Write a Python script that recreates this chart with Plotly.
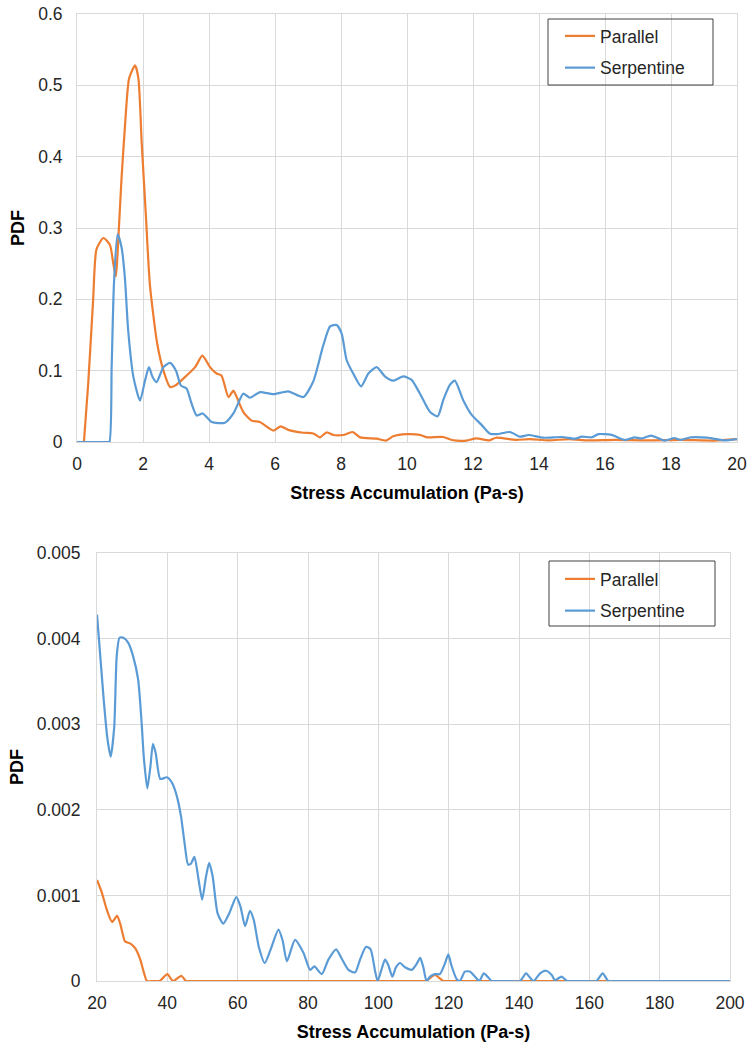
import plotly.graph_objects as go

# ---------- Top panel data (Stress Accumulation 0-20) ----------
par_top_x = [0.21, 0.34, 0.49, 0.59, 0.80, 1.0, 1.10, 1.18, 1.25, 1.35, 1.45, 1.58, 1.76, 1.86, 1.96, 2.09,
             2.21, 2.43, 2.62, 2.82, 2.97, 3.27, 3.58, 3.80, 4.03, 4.23, 4.38, 4.59, 4.74, 4.84, 5.04, 5.29,
             5.54, 5.95, 6.17, 6.40, 6.86, 7.16, 7.36, 7.57, 7.77, 8.07, 8.35, 8.58, 9.08, 9.36, 9.58, 9.99,
             10.39, 10.6, 11.1, 11.36, 11.8, 12.1, 12.5, 12.7, 13.3, 13.73, 14.3, 14.9, 15.5, 16.3, 17.3,
             18.3, 19.3, 20.0]
par_top_y = [0.0, 0.082, 0.20, 0.27, 0.286, 0.276, 0.25, 0.232, 0.283, 0.37, 0.44, 0.51, 0.528, 0.51, 0.42,
             0.315, 0.22, 0.138, 0.10, 0.077, 0.079, 0.091, 0.105, 0.121, 0.105, 0.096, 0.093, 0.063, 0.072,
             0.063, 0.042, 0.030, 0.028, 0.016, 0.022, 0.017, 0.013, 0.012, 0.0066, 0.0136, 0.0098, 0.0098,
             0.014, 0.0065, 0.0047, 0.002, 0.008, 0.011, 0.010, 0.0066, 0.0070, 0.0028, 0.002, 0.005, 0.0023,
             0.006, 0.003, 0.004, 0.0023, 0.004, 0.0023, 0.003, 0.0023, 0.003, 0.002, 0.004]

ser_top_x = [0.0, 0.45, 0.90, 0.98, 1.05, 1.12, 1.23, 1.35, 1.45, 1.55, 1.71, 1.91, 2.06, 2.18, 2.29, 2.41,
             2.62, 2.82, 3.0, 3.15, 3.32, 3.47, 3.63, 3.81, 4.08, 4.48, 4.74, 4.94, 5.04, 5.24, 5.55, 5.95,
             6.4, 6.86, 7.16, 7.46, 7.67, 7.87, 8.02, 8.17, 8.37, 8.61, 8.83, 9.08, 9.33, 9.58, 9.89, 10.14,
             10.39, 10.70, 10.93, 11.1, 11.3, 11.45, 11.7, 11.96, 12.26, 12.5, 12.72, 13.12, 13.42, 13.68,
             14.13, 14.7, 15.1, 15.3, 15.6, 15.8, 16.2, 16.6, 16.9, 17.1, 17.4, 17.8, 18.1, 18.3, 18.6,
             19.1, 19.6, 20.0]
ser_top_y = [0.0, 0.0, 0.0, 0.0, 0.105, 0.222, 0.291, 0.273, 0.231, 0.157, 0.091, 0.058, 0.086, 0.105,
             0.091, 0.084, 0.105, 0.111, 0.10, 0.079, 0.075, 0.054, 0.037, 0.040, 0.028, 0.027, 0.040,
             0.060, 0.068, 0.062, 0.070, 0.067, 0.071, 0.063, 0.085, 0.135, 0.162, 0.164, 0.152, 0.115,
             0.096, 0.078, 0.096, 0.105, 0.092, 0.086, 0.092, 0.087, 0.068, 0.042, 0.036, 0.059, 0.080,
             0.086, 0.059, 0.038, 0.024, 0.012, 0.011, 0.014, 0.0075, 0.0098, 0.006, 0.007, 0.0047,
             0.0075, 0.0066, 0.011, 0.010, 0.003, 0.0066, 0.005, 0.009, 0.002, 0.0056, 0.003, 0.0066,
             0.006, 0.0023, 0.004]

# ---------- Bottom panel data (Stress Accumulation 20-200) ----------
par_bot_x = [20.0, 21.4, 22.8, 24.3, 25.7, 26.6, 28.0, 29.4, 30.9, 32.3, 33.4, 34.2, 36.0, 37.8, 40.0,
             41.6, 44.0, 45.3, 47.0, 60.0, 80.0, 100.0, 111.5, 113.5, 116.1, 118.5, 120.5, 140.0, 160.0,
             180.0, 200.0]
par_bot_y = [0.00118, 0.00103, 0.00083, 0.00069, 0.00076, 0.00067, 0.00046, 0.00044, 0.00038, 0.00025,
             0.00009, 0.0, 0.0, 0.0, 0.00008, 0.0, 0.00006, 0.0, 0.0, 0.0, 0.0, 0.0, 0.0, 0.0, 0.00007,
             0.0, 0.0, 0.0, 0.0, 0.0, 0.0]

ser_bot_x = [20.0, 21.9, 23.0, 23.9, 24.9, 25.6, 26.4, 27.5, 28.9, 30.3, 31.7, 32.7, 33.3, 34.3, 35.2,
             35.9, 36.7, 38.0, 39.9, 41.4, 42.7, 43.9, 44.9, 45.9, 46.7, 47.7, 48.9, 49.9, 51.0, 51.9,
             52.9, 54.3, 55.9, 57.6, 59.6, 60.8, 62.1, 63.5, 64.6, 66.0, 67.7, 69.3, 71.6, 72.8, 74.0,
             76.3, 78.7, 80.6, 81.8, 83.9, 85.8, 88.0, 89.6, 91.5, 93.4, 94.8, 96.5, 97.8, 99.1, 99.8,
             100.8, 101.9, 102.8, 104.0, 105.0, 106.2, 107.6, 109.5, 110.9, 111.9, 112.8, 113.7, 114.7,
             116.1, 117.5, 118.9, 119.9, 120.8, 122.3, 123.2, 124.6, 126.0, 127.5, 128.7, 130.0, 131.3,
             132.2, 134.0, 137.0, 140.3, 142.0, 144.1, 146.0, 147.7, 149.3, 150.2, 152.1, 153.7, 155.5,
             158.5, 162.0, 163.8, 165.4, 167.5, 172.0, 180.0, 190.0, 200.0]
ser_bot_y = [0.00428, 0.00329, 0.00282, 0.00262, 0.00297, 0.00379, 0.00401, 0.00401, 0.00395, 0.00379,
             0.00352, 0.00301, 0.00262, 0.00225, 0.00251, 0.00277, 0.00266, 0.00236, 0.00238, 0.00231,
             0.00216, 0.00192, 0.00161, 0.00136, 0.00137, 0.00145, 0.00118, 0.00095, 0.00122, 0.00138,
             0.00122, 0.00079, 0.00067, 0.00079, 0.00098, 0.00087, 0.00064, 0.00082, 0.00071, 0.00040,
             0.00021, 0.00036, 0.00060, 0.00047, 0.00023, 0.00048, 0.00033, 0.00013, 0.00017, 0.00008,
             0.00025, 0.00037, 0.00026, 0.00013, 0.00010, 0.00025, 0.00040, 0.00037, 0.00011, 0.0,
             0.00012, 0.00025, 0.00019, 0.00005, 0.00016, 0.00021, 0.00016, 0.00013, 0.00020, 0.00027,
             0.00016, 0.0, 0.00005, 0.00008, 0.00008, 0.00020, 0.00031, 0.00018, 0.00002, 0.0,
             0.00011, 0.00011, 0.00005, 0.0, 0.00009, 0.00004, 0.0, 0.0, 0.0, 0.0, 0.00009, 0.0,
             0.00009, 0.00012, 0.00007, 0.00001, 0.00005, 0.0, 0.0, 0.0, 0.0, 0.00009, 0.0, 0.0, 0.0,
             0.0, 0.0, 0.0]

series_names = ["Parallel", "Serpentine"]
colors = ["#ED7D31", "#5B9BD5"]

x_title = "Stress Accumulation (Pa-s)"
y_title = "PDF"

W, H = 747, 1044
# plot area pixel boxes (left, right, top, bottom)
top_box = (77, 737, 14, 442)
bot_box = (97, 730, 553, 981)


def dom_x(b):
    return [b[0] / W, b[1] / W]


def dom_y(b):
    return [(H - b[3]) / H, (H - b[2]) / H]


fig = go.Figure()

for name, col, xs, ys in zip(series_names, colors, [par_top_x, ser_top_x], [par_top_y, ser_top_y]):
    fig.add_trace(go.Scatter(x=xs, y=ys, mode="lines", name=name, legendgroup=name + "1",
                             line=dict(color=col, width=2.2, shape="spline", smoothing=0.6),
                             xaxis="x", yaxis="y", legend="legend"))

for name, col, xs, ys in zip(series_names, colors, [par_bot_x, ser_bot_x], [par_bot_y, ser_bot_y]):
    fig.add_trace(go.Scatter(x=xs, y=ys, mode="lines", name=name, legendgroup=name + "2",
                             line=dict(color=col, width=2.2, shape="spline", smoothing=0.6),
                             xaxis="x2", yaxis="y2", legend="legend2"))

grid = "#D9D9D9"
FAM = "Liberation Sans, Arial, sans-serif"
tickfont = dict(family=FAM, size=17.5, color="#262626")
titlefont = dict(family=FAM, size=18, color="#000000", weight="bold")

common_axis = dict(showgrid=True, gridcolor=grid, gridwidth=1, zeroline=False, showline=True,
                   linecolor=grid, linewidth=1, mirror=True, ticks="", tickfont=tickfont,
                   automargin=False)

fig.update_layout(
    width=W, height=H,
    margin=dict(l=0, r=0, t=0, b=0),
    paper_bgcolor="white", plot_bgcolor="white",
    font=dict(family=FAM),
    xaxis=dict(domain=dom_x(top_box), range=[0, 20], dtick=2, tick0=0, anchor="y", ticklabelstandoff=6,
               title=dict(text=x_title, font=titlefont, standoff=13), **common_axis),
    yaxis=dict(domain=dom_y(top_box), range=[0, 0.6], dtick=0.1, tick0=0, anchor="x", ticklabelstandoff=10,
               title=dict(text=y_title, font=titlefont, standoff=8), **common_axis),
    xaxis2=dict(domain=dom_x(bot_box), range=[20, 200], dtick=20, tick0=20, anchor="y2", ticklabelstandoff=6,
                title=dict(text=x_title, font=titlefont, standoff=13), **common_axis),
    yaxis2=dict(domain=dom_y(bot_box), range=[0, 0.005], dtick=0.001, tick0=0, anchor="x2",
                ticklabelstandoff=12, title=dict(text=y_title, font=titlefont, standoff=8), **common_axis),
    legend=dict(x=560 / W, y=1 - 18 / H, xanchor="left", yanchor="top", bgcolor="rgba(0,0,0,0)",
                borderwidth=0, font=dict(family=FAM, size=17.5, color="#262626"), tracegroupgap=6,
                itemwidth=30),
    legend2=dict(x=560 / W, y=1 - 561 / H, xanchor="left", yanchor="top", bgcolor="rgba(0,0,0,0)",
                 borderwidth=0, font=dict(family=FAM, size=17.5, color="#262626"), tracegroupgap=6,
                 itemwidth=30),
    showlegend=True,
    shapes=[
        dict(type="rect", xref="paper", yref="paper", x0=548 / W, x1=713 / W, y0=1 - 85 / H, y1=1 - 19 / H,
             line=dict(color="#404040", width=1), fillcolor="rgba(255,255,255,0)", layer="above"),
        dict(type="rect", xref="paper", yref="paper", x0=549 / W, x1=715 / W, y0=1 - 626 / H, y1=1 - 561 / H,
             line=dict(color="#404040", width=1), fillcolor="rgba(255,255,255,0)", layer="above"),
    ],
)

fig.write_html("out.html", config={"displayModeBar": False},
               post_script="document.body.style.margin='0';document.body.style.overflow='hidden';")
